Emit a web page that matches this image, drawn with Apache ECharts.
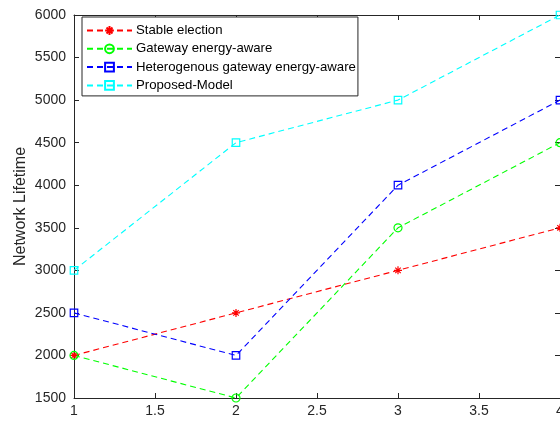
<!DOCTYPE html>
<html><head><meta charset="utf-8">
<script src="https://cdn.jsdelivr.net/npm/echarts@6/dist/echarts.min.js"></script>
<style>html,body{margin:0;padding:0;background:#fff}#c{width:560px;height:421px}</style>
</head><body><div id="c"></div>
<script>
const xValues = [1, 2, 3, 4];
const seriesNames = ['Stable election', 'Gateway energy-aware', 'Heterogenous gateway energy-aware', 'Proposed-Model'];
const stableElection = [2000, 2500, 3000, 3500];
const gatewayEnergyAware = [2000, 1500, 3500, 4500];
const heterogenousGateway = [2500, 2000, 4000, 5000];
const proposedModel = [3000, 4500, 5000, 6000];
const yAxisTitle = 'Network Lifetime';

const FONT = 'Liberation Sans, Arial, Helvetica, sans-serif';
const AX = '#262626';
const asterisk = 'path://M5,0L5,10M0,5L10,5M1.6,1.6L8.4,8.4M1.6,8.4L8.4,1.6';

function mk(name, data, color, symbol, size) {
  return {
    name, type: 'line', xAxisIndex: 0, yAxisIndex: 0,
    data: data.map((v, i) => [xValues[i], v]),
    symbol, symbolSize: size, showAllSymbol: true,
    lineStyle: { color, width: 1.1, type: [6, 4] },
    itemStyle: { color: 'transparent', borderColor: color, borderWidth: 1.2 },
    emphasis: { disabled: true }, animation: false, z: 3
  };
}

const chart = echarts.init(document.getElementById('c'));
chart.setOption({
  animation: false,
  textStyle: { fontFamily: FONT },
  grid: { left: 74, right: 0, top: 15, bottom: 23, containLabel: false, outerBoundsMode: 'none' },
  legend: {
    orient: 'vertical', left: 82, top: 17,
    padding: [7, 2, 4, 4], itemGap: 5.3, itemWidth: 45, itemHeight: 11,
    borderColor: AX, borderWidth: 1, backgroundColor: '#fff',
    textStyle: { fontFamily: FONT, fontSize: 13.2, color: '#000', padding: [0, 0, 0, -1] },
    selectedMode: false,
    data: seriesNames
  },
  xAxis: [{
    type: 'value', min: 1, max: 4, interval: 0.5, position: 'bottom',
    axisLine: { lineStyle: { color: AX, width: 1 } },
    axisTick: { inside: true, length: 5, lineStyle: { color: AX } },
    axisLabel: { color: AX, fontSize: 14, fontFamily: FONT, margin: 6, formatter: v => String(v) },
    splitLine: { show: false }
  }, {
    type: 'value', min: 1, max: 4, interval: 0.5, position: 'top',
    axisLine: { show: true, lineStyle: { color: AX, width: 1 } },
    axisTick: { show: true, inside: true, length: 5, lineStyle: { color: AX } },
    axisLabel: { show: false }, splitLine: { show: false }
  }],
  yAxis: [{
    type: 'value', min: 1500, max: 6000, interval: 500, position: 'left',
    name: yAxisTitle, nameLocation: 'middle', nameGap: 45, nameRotate: 90, nameMoveOverlap: false,
    nameTextStyle: { color: AX, fontSize: 16, fontFamily: FONT },
    axisLine: { show: true, lineStyle: { color: AX, width: 1 } },
    axisTick: { show: true, inside: true, length: 5, lineStyle: { color: AX } },
    axisLabel: { color: AX, fontSize: 14, fontFamily: FONT, margin: 8, formatter: v => String(v) },
    splitLine: { show: false }
  }, {
    type: 'value', min: 1500, max: 6000, interval: 500, position: 'right',
    axisLine: { show: true, lineStyle: { color: AX, width: 1 } },
    axisTick: { show: true, inside: true, length: 5, lineStyle: { color: AX } },
    axisLabel: { show: false }, splitLine: { show: false }
  }],
  series: [
    mk(seriesNames[0], stableElection, '#ff0000', asterisk, 8),
    mk(seriesNames[1], gatewayEnergyAware, '#00ff00', 'circle', 8),
    mk(seriesNames[2], heterogenousGateway, '#0000ff', 'rect', 7.5),
    mk(seriesNames[3], proposedModel, '#00ffff', 'rect', 7.5)
  ]
});
</script></body></html>
